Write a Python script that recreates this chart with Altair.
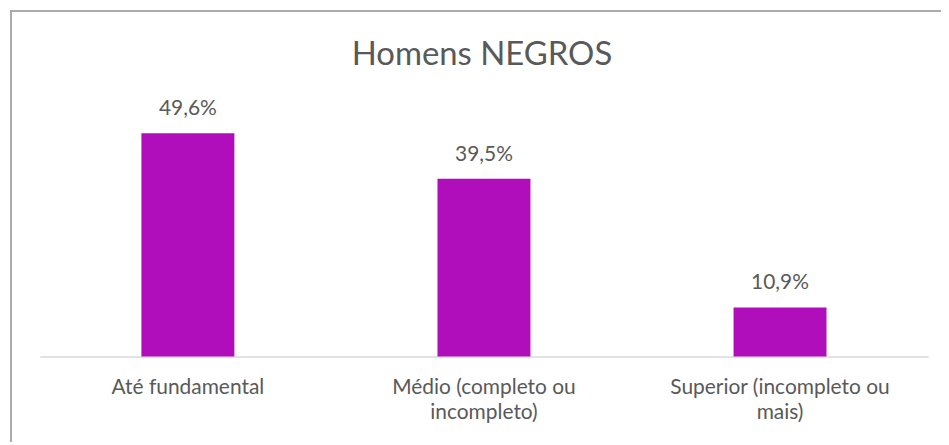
import altair as alt
import pandas as pd

categories = ["Até fundamental", "Médio (completo ou incompleto)", "Superior (incompleto ou mais)"]
label_lines = [["Até fundamental"], ["Médio (completo ou", "incompleto)"], ["Superior (incompleto ou", "mais)"]]
values = [49.6, 39.5, 10.9]
value_labels = ["49,6%", "39,5%", "10,9%"]
title_text = "Homens NEGROS"

df = pd.DataFrame({"cat": categories, "val": values, "lab": value_labels})

expr_parts = []
for c, lines in zip(categories, label_lines):
    arr = "[" + ",".join("'" + l + "'" for l in lines) + "]"
    expr_parts.append(f"datum.value == '{c}' ? {arr} : ")
label_expr = "".join(expr_parts) + "datum.value"

FONT = "Lato"
TEXT = "#595959"
W, H = 892, 271

x = alt.X("cat:N", sort=categories,
          scale=alt.Scale(paddingInner=0.686, paddingOuter=0.343),
          axis=alt.Axis(title=None, labelAngle=0, ticks=False, domainColor="#D9D9D9",
                        domainWidth=1.5, labelFont=FONT, labelFontSize=21, labelColor=TEXT,
                        labelPadding=20, labelLineHeight=25, labelLimit=0, labelExpr=label_expr))
y = alt.Y("val:Q", scale=alt.Scale(domain=[0, 60]), axis=None)

base = alt.Chart(df)
bars = base.mark_bar(color="#B00DBB").encode(x=x, y=y)
texts = base.mark_text(font=FONT, fontSize=21, color=TEXT, baseline="alphabetic", dy=-18).encode(
    x=x, y=y, text="lab:N")
border = base.mark_rect(filled=False, stroke="#ABABAB", strokeWidth=2, clip=False).encode(
    x=alt.value(-29), x2=alt.value(W + 60), y=alt.value(-76), y2=alt.value(H + 200))
title = alt.Chart(pd.DataFrame({"t": [title_text]})).mark_text(
    font=FONT, fontSize=33, color=TEXT, baseline="alphabetic", align="center", clip=False).encode(
    x=alt.value(W / 2 - 2), y=alt.value(-22), text="t:N")

chart = alt.layer(border, bars, texts, title).properties(
    width=W, height=H,
    autosize=alt.AutoSizeParams(type="none"),
    padding={"left": 32, "top": 78, "right": 13, "bottom": 85},
).configure(background="white").configure_view(stroke=None)

chart.save("out.html", embed_options={"renderer": "svg", "actions": False})
